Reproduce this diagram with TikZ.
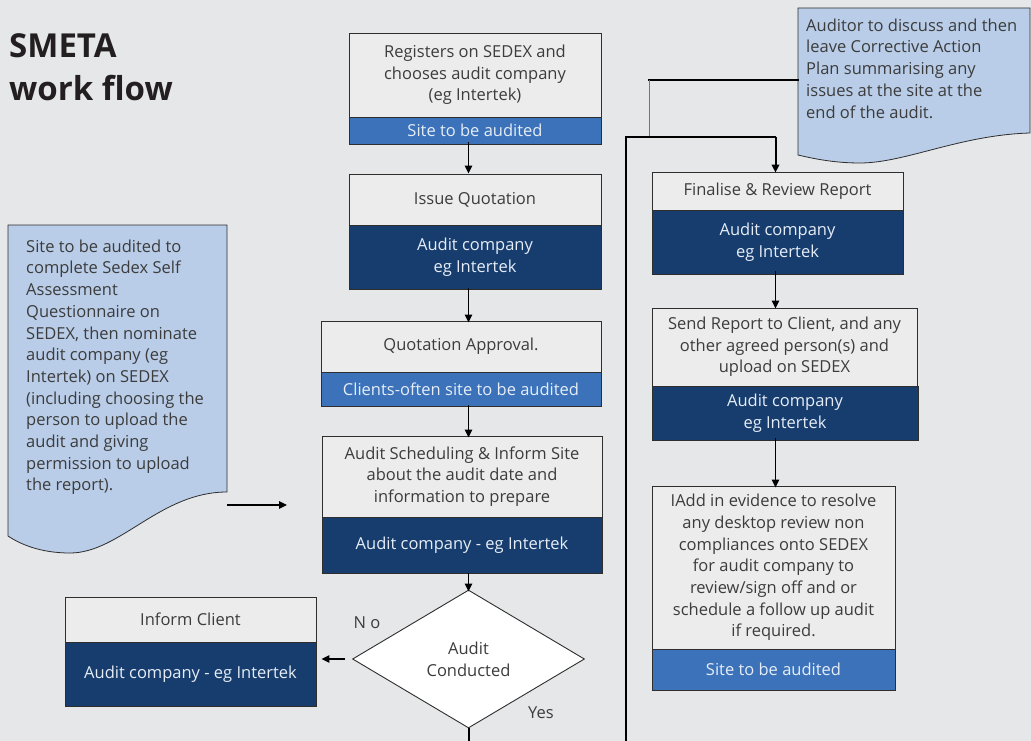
\documentclass[tikz,border=0pt]{standalone}
\usepackage{fontspec}
\setmainfont{Open Sans}
\usetikzlibrary{shapes.geometric,arrows.meta,calc}
\definecolor{bg}{HTML}{E6E7E8}
\definecolor{boxgrey}{HTML}{ECECEC}
\definecolor{navy}{HTML}{173D6E}
\definecolor{midblue}{HTML}{3B72BA}
\definecolor{notefill}{HTML}{B9CDE8}
\definecolor{edge}{HTML}{2E2E2E}
\definecolor{txt}{HTML}{3C3C3C}
\definecolor{wtxt}{HTML}{E6EDF6}
\definecolor{titlec}{HTML}{231F20}
\definecolor{brownline}{HTML}{9A6A4A}
\begin{document}
\begin{tikzpicture}[x=1pt,y=-1pt,
  every node/.style={font=\fontsize{16.5}{21.7}\selectfont, inner sep=0pt},
  tp/.style={draw=edge, line width=0.9pt, fill=boxgrey, text=txt, align=center},
  nv/.style={draw=edge, line width=0.9pt, fill=navy, text=wtxt, align=center},
  mb/.style={draw=edge, line width=0.9pt, fill=midblue, text=wtxt, align=center},
  notebox/.style={draw=edge, line width=0.8pt, fill=notefill},
  notetext/.style={text=txt, align=left, anchor=north west},
  arr/.style={draw=black, line width=1.2pt, -{Triangle[length=8pt,width=7.5pt]}},
  flow/.style={draw=black, line width=2pt},
  lbl/.style={text=txt}
]
\fill[bg] (0,0) rectangle (1031,741);
\useasboundingbox (0,0) rectangle (1031,741);

% title
\node[anchor=north west, align=left, text=titlec,
      font=\fontsize{33}{43}\selectfont\bfseries] (title) at (9,33) {SMETA\\work flow};

% left note
\draw[notebox] (8,225) -- (227,225) -- (227,492)
  .. controls (160,492) and (120,553) .. (70,553)
  .. controls (40,553) and (20,544) .. (8,536) -- cycle;
\node[notetext] (lnote) at (26,239.5) {Site to be audited to\\complete Sedex Self\\Assessment\\Questionnaire on\\SEDEX, then nominate\\audit company (eg\\Intertek) on SEDEX\\(including choosing the\\person to upload the\\audit and giving\\permission to upload\\the report).};

% right note
\draw[notebox] (798,8) -- (1030,8) -- (1030,133)
  .. controls (960,135) and (905,163) .. (860,163)
  .. controls (835,163) and (815,159) .. (798,155) -- cycle;
\node[notetext] (rnote) at (806,18.5) {Auditor to discuss and then\\leave Corrective Action\\Plan summarising any\\issues at the site at the\\end of the audit.};

% centre column
\node[tp, minimum width=252pt, minimum height=84pt] (b1t) at (475,75) {Registers on SEDEX and\\chooses audit company\\(eg Intertek)};
\node[mb, minimum width=252pt, minimum height=27pt] (b1b) at (475,130.5) {Site to be audited};

\node[tp, minimum width=252pt, minimum height=51pt] (b2t) at (475,199.5) {Issue Quotation};
\node[nv, minimum width=252pt, minimum height=64pt] (b2b) at (475,257) {Audit company\\eg Intertek};

\node[tp, minimum width=280pt, minimum height=51pt] (b3t) at (461,346.5) {Quotation Approval.};
\node[mb, minimum width=280pt, minimum height=34pt] (b3b) at (461,389) {Clients-often site to be audited};

\node[tp, minimum width=280pt, minimum height=81pt] (b4t) at (462,476.5) {Audit Scheduling \& Inform Site\\about the audit date and\\information to prepare};
\node[nv, minimum width=280pt, minimum height=56pt] (b4b) at (462,545) {Audit company - eg Intertek};

\node[diamond, draw=edge, line width=0.9pt, fill=white, text=txt, align=center,
      minimum width=232pt, minimum height=138pt] (dia) at (468.5,659) {Audit\\Conducted};

\node[tp, minimum width=251pt, minimum height=45pt] (inft) at (190.5,619.5) {Inform Client};
\node[nv, minimum width=251pt, minimum height=64pt] (infb) at (190.5,674) {Audit company - eg Intertek};

\node[lbl] (no) at (367,623) {N o};
\node[lbl] (yes) at (541,713) {Yes};

% right column
\node[tp, minimum width=251pt, minimum height=38pt] (fint) at (777.5,191) {Finalise \& Review Report};
\node[nv, minimum width=251pt, minimum height=64pt] (finb) at (777.5,242) {Audit company\\eg Intertek};

\node[tp, minimum width=265pt, minimum height=78pt] (sendt) at (784.5,347) {Send Report to Client, and any\\other agreed person(s) and\\upload on SEDEX};
\node[nv, minimum width=266pt, minimum height=54pt] (sendb) at (785,413) {Audit company\\eg Intertek};

\node[tp, minimum width=243pt, minimum height=163pt] (addt) at (773.5,567.5) {IAdd in evidence to resolve\\any desktop review non\\compliances onto SEDEX\\for audit company to\\review/sign off and or\\schedule a follow up audit\\if required.};
\node[mb, minimum width=243pt, minimum height=41pt] (addb) at (773.5,669.5) {Site to be audited};

% coordinates
\coordinate (cx) at (468.5,0);
\coordinate (rx) at (775.5,0);
\coordinate (la) at (227,505);
\coordinate (lb) at (287,505);
\coordinate (noteleft) at (798,80);
\coordinate (bend1) at (649,80);
\coordinate (bend2) at (649,137);
\coordinate (loopl) at (626,137);
\coordinate (loopbot) at (626,741);
\coordinate (diabot) at (468.5,741);

% centre arrows
\draw[arr] ([yshift=2pt]b1b.south -| cx) -- (b2t.north -| cx);
\draw[arr] ([yshift=1pt]b2b.south -| cx) -- ([yshift=-2pt]b3t.north -| cx);
\draw[arr] ([yshift=1pt]b3b.south -| cx) -- ([yshift=-2pt]b4t.north -| cx);
\draw[arr] (b4b.south -| cx) -- ([yshift=-2pt]dia.north);
\draw[arr] ([xshift=-7pt]dia.west) -- ([xshift=5pt]dia.west -| infb.east);
\draw[arr] (la) -- (lb);
\draw[flow] (dia.south) -- (diabot);

% right loop
\draw[flow, line cap=rect] (noteleft) -- (bend1);
\draw[brownline, line width=1pt] (bend1) -- (bend2);
\draw[flow] (loopbot) -- (loopl) -- (loopl -| rx);
\draw[arr, line width=2pt] (loopl -| rx) -- ([yshift=-1pt]fint.north -| rx);
\draw[arr] ([yshift=3pt]finb.south -| rx) -- ([yshift=-1pt]sendt.north -| rx);
\draw[arr] ([yshift=2pt]sendb.south -| rx) -- ([yshift=-2pt]addt.north -| rx);
\end{tikzpicture}
\end{document}
